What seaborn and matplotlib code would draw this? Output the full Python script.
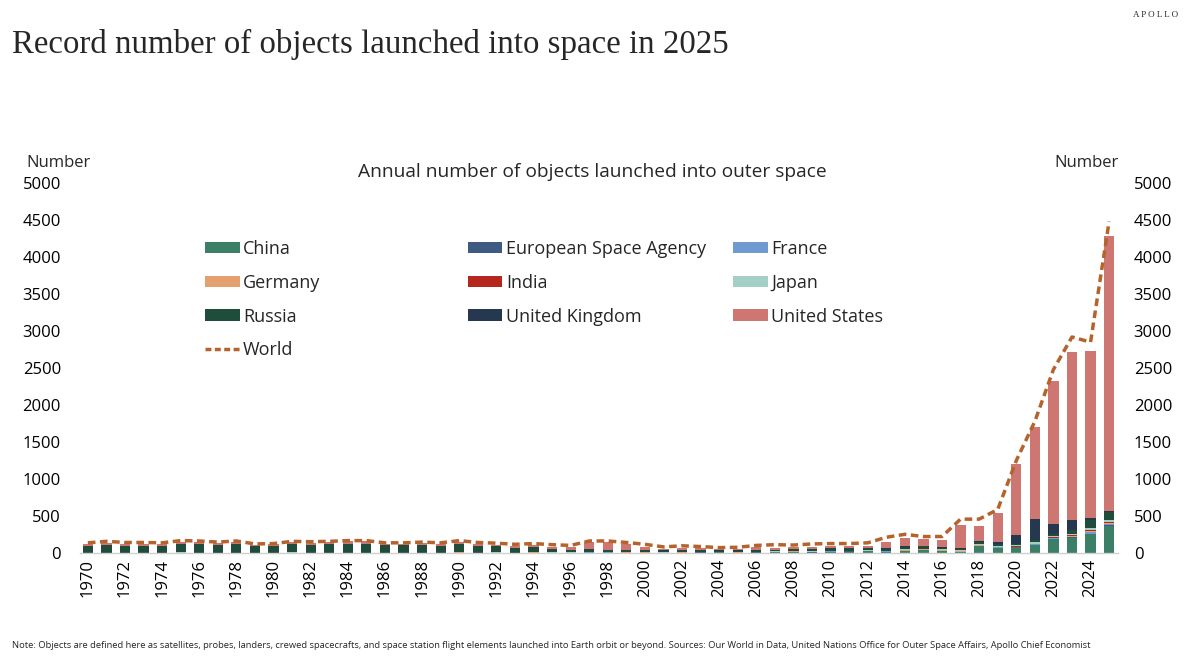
import numpy as np
import pandas as pd
import matplotlib
matplotlib.use("Agg")
import matplotlib.pyplot as plt
from matplotlib.patches import Patch
from matplotlib.lines import Line2D
import seaborn as sns

# -----------------------------
# DATA
# -----------------------------
years = list(range(1970, 2026))

china = [0, 1, 0, 0, 0, 3, 2, 0, 1, 0,
         0, 3, 1, 1, 3, 1, 2, 2, 4, 0,
         5, 1, 3, 1, 5, 2, 3, 6, 6, 4,
         5, 1, 5, 7, 10, 5, 7, 10, 15, 8,
         20, 22, 25, 18, 28, 40, 30, 15, 95, 70,
         80, 110, 190, 210, 260, 370]
esa = [0, 0, 0, 0, 0, 1, 0, 2, 2, 1,
       0, 1, 0, 2, 1, 2, 0, 0, 1, 2,
       2, 1, 0, 1, 1, 2, 2, 2, 2, 1,
       1, 2, 1, 3, 0, 1, 3, 2, 2, 4,
       2, 2, 3, 3, 3, 4, 3, 3, 4, 3,
       2, 3, 3, 3, 4, 5]
france = [2, 1, 0, 0, 1, 3, 0, 1, 1, 0,
          0, 1, 1, 1, 2, 1, 2, 1, 1, 2,
          2, 1, 2, 1, 3, 2, 2, 2, 2, 3,
          2, 2, 2, 2, 3, 2, 1, 2, 2, 3,
          2, 3, 2, 2, 3, 3, 3, 3, 3, 4,
          5, 5, 8, 10, 20, 15]
germany = [0, 0, 1, 0, 1, 1, 1, 0, 0, 0,
           0, 0, 0, 1, 0, 2, 0, 0, 0, 0,
           2, 1, 2, 0, 1, 2, 1, 1, 2, 2,
           3, 2, 3, 2, 2, 2, 1, 3, 4, 1,
           2, 1, 2, 3, 3, 3, 2, 3, 5, 5,
           3, 5, 10, 12, 15, 20]
india = [0, 0, 0, 0, 0, 1, 0, 0, 0, 1,
         1, 2, 1, 1, 0, 0, 0, 1, 1, 0,
         0, 1, 1, 1, 1, 1, 1, 1, 0, 1,
         0, 2, 1, 1, 1, 2, 0, 2, 3, 2,
         4, 4, 2, 3, 3, 4, 6, 7, 8, 8,
         5, 5, 10, 10, 15, 15]
japan = [1, 2, 1, 0, 1, 3, 2, 3, 3, 2,
         2, 3, 1, 3, 3, 2, 3, 3, 2, 2,
         7, 2, 2, 1, 4, 2, 3, 3, 2, 1,
         1, 1, 5, 4, 0, 3, 7, 4, 3, 7,
         5, 3, 5, 3, 15, 8, 12, 10, 15, 12,
         10, 25, 15, 15, 20, 25]
russia = [95, 105, 95, 100, 95, 115, 115, 105, 115, 95,
          100, 115, 110, 115, 120, 120, 105, 105, 105, 95,
          100, 90, 85, 70, 70, 50, 30, 35, 25, 30,
          30, 25, 25, 25, 20, 20, 25, 25, 25, 30,
          30, 30, 30, 30, 35, 30, 20, 20, 20, 25,
          20, 20, 25, 55, 120, 110]
uk = [0, 1, 0, 0, 1, 0, 0, 0, 0, 1,
      0, 1, 0, 0, 0, 0, 0, 0, 1, 1,
      1, 2, 1, 1, 1, 1, 1, 2, 2, 2,
      3, 2, 2, 3, 2, 2, 3, 1, 3, 4,
      2, 3, 3, 5, 8, 8, 5, 10, 15, 20,
      125, 290, 135, 135, 15, 15]
usa = [25, 30, 30, 25, 25, 30, 30, 25, 30, 15,
       15, 20, 25, 25, 30, 30, 15, 15, 20, 20,
       30, 25, 20, 20, 25, 25, 35, 100, 105, 75,
       45, 20, 25, 20, 15, 15, 30, 25, 25, 30,
       25, 25, 30, 90, 105, 95, 100, 310, 200, 390,
       950, 1240, 1935, 2270, 2260, 3705]
world = [140, 160, 145, 145, 140, 170, 165, 150, 165, 125,
         130, 160, 155, 160, 170, 170, 140, 140, 150, 140,
         170, 145, 135, 120, 130, 115, 105, 165, 165, 145,
         120, 85, 100, 90, 75, 80, 105, 115, 110, 125,
         130, 130, 140, 215, 255, 225, 225, 460, 460, 590,
         1250, 1780, 2480, 2920, 2850, 4480]

countries = ["China", "European Space Agency", "France", "Germany", "India",
             "Japan", "Russia", "United Kingdom", "United States"]
series = [china, esa, france, germany, india, japan, russia, uk, usa]
colors = ["#3b7f67", "#3f5b82", "#6f9bd1", "#e5a06f", "#b5261d",
          "#a4cfc4", "#1f4c3b", "#263850", "#cd7672"]
world_color = "#b5622b"

y_ticks = [0, 500, 1000, 1500, 2000, 2500, 3000, 3500, 4000, 4500, 5000]

# long format for seaborn stacking
df = pd.DataFrame([{"year": y, "country": c, "n": v}
                   for c, vals in zip(countries, series)
                   for y, v in zip(years, vals)])
df_world = pd.DataFrame({"year": years, "world": world})

# -----------------------------
# PLOT
# -----------------------------
sns.set_theme(style="white")
plt.rcParams["font.family"] = ["Open Sans", "DejaVu Sans"]

fig = plt.figure(figsize=(12, 6.57), dpi=100)
ax = fig.add_axes([0.067, 0.158, 0.865, 0.5635])

palette = dict(zip(countries, colors))
# seaborn stacks the last hue level at the bottom, so reverse
sns.histplot(data=df, x="year", weights="n", hue="country",
             hue_order=countries[::-1], palette=palette,
             multiple="stack", discrete=True, shrink=0.55,
             alpha=1, linewidth=0, legend=False, ax=ax)
sns.lineplot(data=df_world, x="year", y="world", color=world_color,
             linewidth=2.5, ax=ax)
ax.lines[-1].set_dashes([2.2, 1.3])

ax.set_xlim(1969.6, 2025.5)
ax.set_ylim(0, 5000)
ax.set_yticks(y_ticks)
ax.set_xticks(years[::2])
ax.set_xticklabels([str(y) for y in years[::2]], rotation=90)
ax.tick_params(axis="y", labelsize=12, pad=14, length=0, colors="black")
ax.tick_params(axis="x", labelsize=12, pad=4, length=0, colors="black")
ax.set_xlabel("")
ax.set_ylabel("")
for s in ["top", "right", "left"]:
    ax.spines[s].set_visible(False)
ax.spines["bottom"].set_color("#d0d0d0")
ax.spines["bottom"].set_linewidth(1)

ax2 = ax.twinx()
ax2.set_ylim(0, 5000)
ax2.set_yticks(y_ticks)
ax2.tick_params(axis="y", labelsize=12, pad=11, length=0, colors="black")
for s in ax2.spines.values():
    s.set_visible(False)
ax2.grid(False)

# legend in three separate columns
handles = {c: Patch(facecolor=col, edgecolor="none") for c, col in zip(countries, colors)}
handles["World"] = Line2D([], [], color=world_color, linewidth=2.5, dashes=[1.7, 1.0])
legend_cols = [["China", "Germany", "Russia", "World"],
               ["European Space Agency", "India", "United Kingdom"],
               ["France", "Japan", "United States"]]
legend_x = [0.171, 0.39, 0.611]
for names, lx in zip(legend_cols, legend_x):
    leg = fig.legend([handles[n] for n in names], names, loc="upper left",
                     bbox_to_anchor=(lx, 0.635), frameon=False, fontsize=13,
                     borderpad=0, borderaxespad=0, handlelength=1.9,
                     handleheight=0.6, handletextpad=0.2, labelspacing=0.88)

# texts
fig.text(0.01, 0.932, "Record number of objects launched into space in 2025",
         fontsize=23.7, family="Liberation Serif", va="center", ha="left")
fig.text(0.982, 0.977, "A P O L L O", fontsize=6.5, family="Liberation Serif",
         va="center", ha="right")
fig.text(0.494, 0.738, "Annual number of objects launched into outer space",
         fontsize=13.8, ha="center", va="center")
fig.text(0.022, 0.752, "Number", fontsize=12, ha="left", va="center")
fig.text(0.932, 0.752, "Number", fontsize=12, ha="right", va="center")
fig.text(0.01, 0.018,
         "Note: Objects are defined here as satellites, probes, landers, crewed spacecrafts, and space station "
         "flight elements launched into Earth orbit or beyond. Sources: Our World in Data, United Nations Office "
         "for Outer Space Affairs, Apollo Chief Economist",
         fontsize=6.75, ha="left", va="center")

fig.savefig("out.png", dpi=100)
